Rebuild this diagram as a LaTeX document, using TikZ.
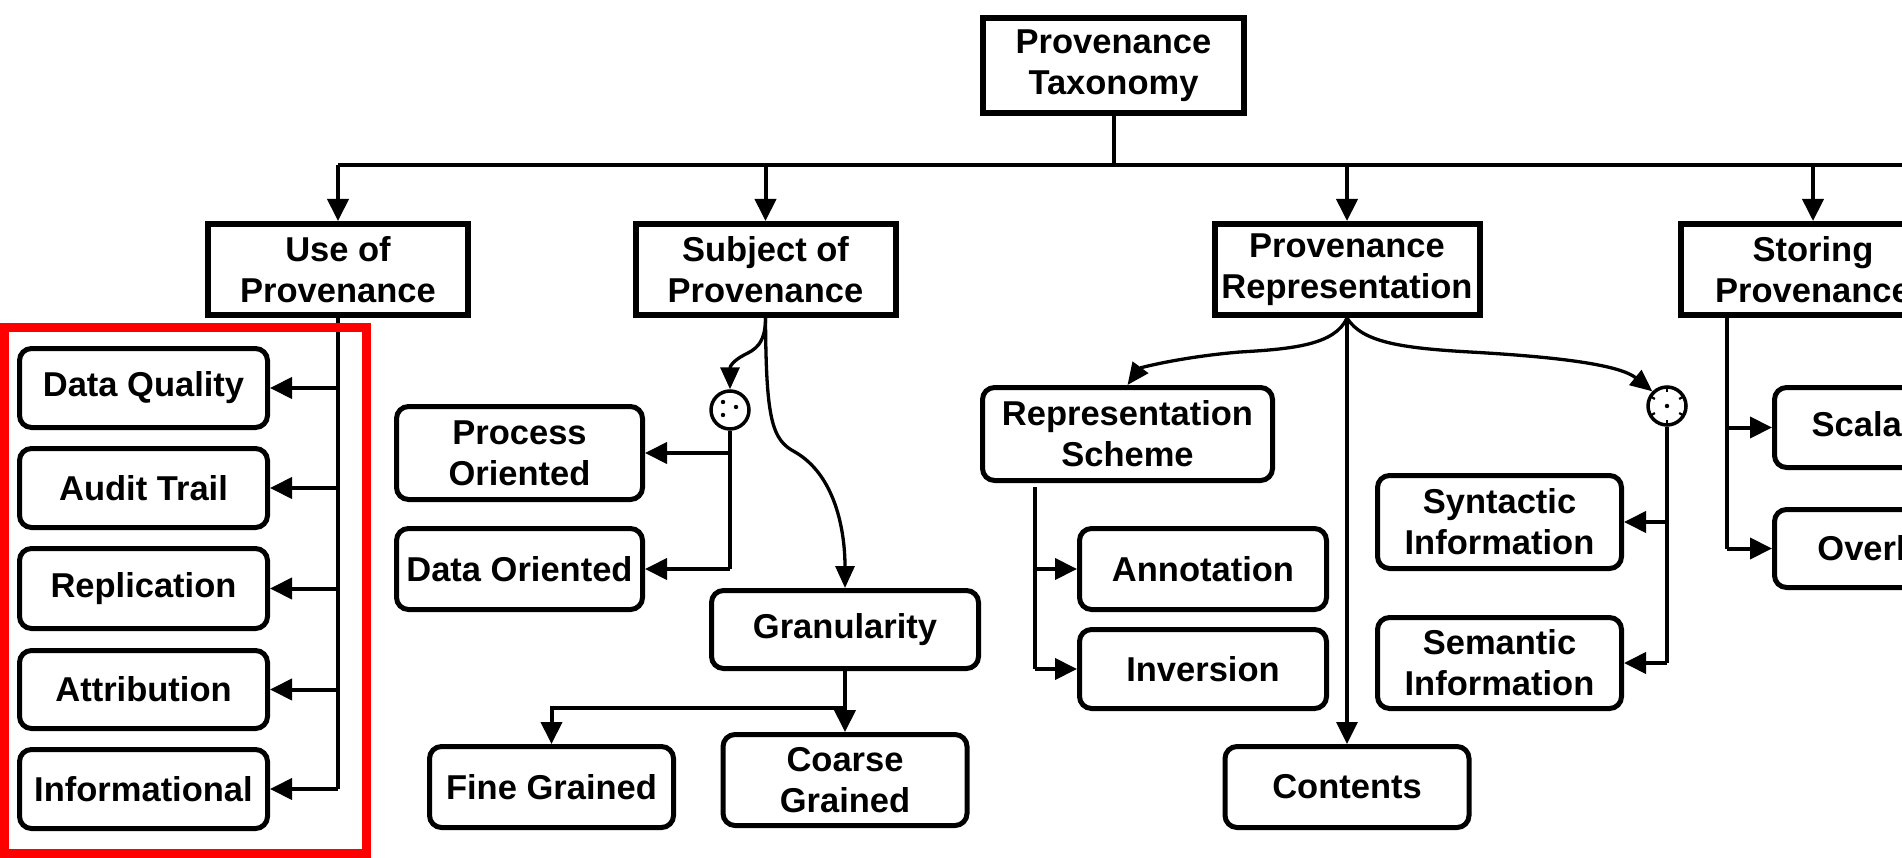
\documentclass[tikz,border=0pt]{standalone}
\usepackage{fontspec}
\setmainfont{Liberation Sans}
\usetikzlibrary{arrows.meta,calc}
\begin{document}
\begin{tikzpicture}[x=1pt,y=-1pt,
  every node/.style={font=\fontsize{34.5}{41}\selectfont\bfseries, align=center, inner sep=0pt},
  topbox/.style={draw, line width=6pt, minimum height=91pt},
  rbox/.style={draw, rounded corners=12pt, line width=5pt},
  conn/.style={line width=4pt},
  curv/.style={line width=3.3pt, -{Triangle[length=22pt,width=19pt]}},
  arr/.style={conn, -{Triangle[length=22pt,width=21pt]}},
  junc/.style={draw, circle, line width=3.5pt, minimum size=38pt},
  redbox/.style={draw=red, line width=9pt}
]
\useasboundingbox (0,0) rectangle (1902,858);
\clip (0,0) rectangle (1902,858);

% top level
\node[topbox, minimum width=261pt, minimum height=95pt] (tax) at (1113.5,65.5) {Provenance\\Taxonomy};
\node[topbox, minimum width=260pt] (use) at (338,269.5) {Use of\\Provenance};
\node[topbox, minimum width=260pt] (subj) at (765.5,269.5) {Subject of\\Provenance};
\node[topbox, minimum width=265pt] (rep) at (1347,269.5) {Provenance\\Representation};
\node[topbox, minimum width=264pt] (store) at (1813,269.5) {Storing\\Provenance};

% use of provenance children
\node[rbox, minimum width=248pt, minimum height=79pt] (u1) at (143.5,388) {Data Quality};
\node[rbox, minimum width=248pt, minimum height=79pt] (u2) at (143.5,488) {Audit Trail};
\node[rbox, minimum width=248pt, minimum height=80pt] (u3) at (143.5,588.5) {Replication};
\node[rbox, minimum width=248pt, minimum height=78pt] (u4) at (143.5,689.5) {Attribution};
\node[rbox, minimum width=248pt, minimum height=79pt] (u5) at (143.5,789) {Informational};

% subject children
\node[junc] (c1) at (730,410) {};
\node[rbox, minimum width=246pt, minimum height=93pt] (po) at (519.5,453) {Process\\Oriented};
\node[rbox, minimum width=246pt, minimum height=81pt] (dor) at (519.5,569) {Data Oriented};
\node[rbox, minimum width=267pt, minimum height=78pt] (gran) at (845,629.5) {Granularity};
\node[rbox, minimum width=244pt, minimum height=81pt] (fine) at (551.5,787) {Fine Grained};
\node[rbox, minimum width=244pt, minimum height=91pt] (coarse) at (845,780) {Coarse\\Grained};

% representation children
\node[rbox, minimum width=290pt, minimum height=93pt] (rs) at (1127.5,434) {Representation\\Scheme};
\node[rbox, minimum width=247pt, minimum height=81pt] (ann) at (1203,569) {Annotation};
\node[rbox, minimum width=247pt, minimum height=79pt] (inv) at (1203,669) {Inversion};
\node[rbox, minimum width=244pt, minimum height=81pt] (cont) at (1347,787) {Contents};
\node[junc] (c2) at (1667,406) {};
\node[rbox, minimum width=244pt, minimum height=93pt] (syn) at (1499.5,522) {Syntactic\\Information};
\node[rbox, minimum width=244pt, minimum height=91pt] (sem) at (1499.5,663) {Semantic\\Information};

% storing children
\node[rbox, minimum width=245pt, minimum height=80pt] (scal) at (1897,427.5) {Scalability};
\node[rbox, minimum width=245pt, minimum height=78pt] (over) at (1897,548.5) {Overhead};

% junction marks
\fill (c1) ++(-7,-8) circle[radius=2.2];
\fill (c1) ++(6,-3) circle[radius=2.2];
\fill (c1) ++(-7,5) circle[radius=2.2];
\fill (c2) circle[radius=2.2];
\foreach \a in {90,150,30,210,330,270}
  \draw[line width=2.2pt] ($(c2)+(\a:14)$) -- ($(c2)+(\a:18)$);

% top connectors
\coordinate (barL) at (338,165);
\coordinate (barR) at (1920,165);
\draw[conn] (tax.south) -- (tax.south |- barL);
\draw[conn] (barL) -- (barR);
\draw[arr] (use.north |- barL) -- (use.north);
\draw[arr] (subj.north |- barL) -- (subj.north);
\draw[arr] (rep.north |- barL) -- (rep.north);
\draw[arr] (store.north |- barL) -- (store.north);

% use of provenance
\draw[conn] (use.south) -- (use.south |- u5.east);
\foreach \n in {u1,u2,u3,u4,u5}
  \draw[arr] (use.south |- \n.east) -- (\n.east);

% subject
\draw[curv] (subj.south) .. controls (765.5,345) and (754,350) .. (744,355)
  .. controls (733,361) and (730,366) .. (c1.north);
\draw[curv] (subj.south) .. controls (766,420) and (772,440) .. (795,452)
  .. controls (835,475) and (845,530) .. (gran.north);
\draw[conn] (c1.south) -- (c1.south |- dor.east);
\draw[arr] (c1.south |- po.east) -- (po.east);
\draw[arr] (c1.south |- dor.east) -- (dor.east);
\coordinate (gj) at (845,708);
\draw[conn] (gran.south) -- (gj);
\draw[arr] (gj) -| (fine.north);
\draw[arr] (gj) -- (coarse.north);

% representation
\draw[curv] (rep.south) .. controls (1335,345) and (1292,349) .. (1240,352)
  .. controls (1180,357) and (1140,368) .. (rs.north);
\draw[curv] (rep.south) .. controls (1362,342) and (1400,348) .. (1470,352)
  .. controls (1560,357) and (1620,365) .. (c2.135);
\draw[arr, line width=3.3pt] (rep.south) -- (cont.north);
\coordinate (rsv) at (1035,487);
\draw[conn] (rsv) -- (rsv |- inv.west);
\draw[arr] (rsv |- ann.west) -- (ann.west);
\draw[arr] (rsv |- inv.west) -- (inv.west);
\draw[conn] (c2.south) -- (c2.south |- sem.east);
\draw[arr] (c2.south |- syn.east) -- (syn.east);
\draw[arr] (c2.south |- sem.east) -- (sem.east);

% storing
\coordinate (sv) at (1727,316);
\draw[conn] (sv) -- (sv |- over.west);
\draw[arr] (sv |- scal.west) -- (scal.west);
\draw[arr] (sv |- over.west) -- (over.west);

% highlight
\draw[redbox] (4.5,328) rectangle (366,853.5);
\end{tikzpicture}
\end{document}
